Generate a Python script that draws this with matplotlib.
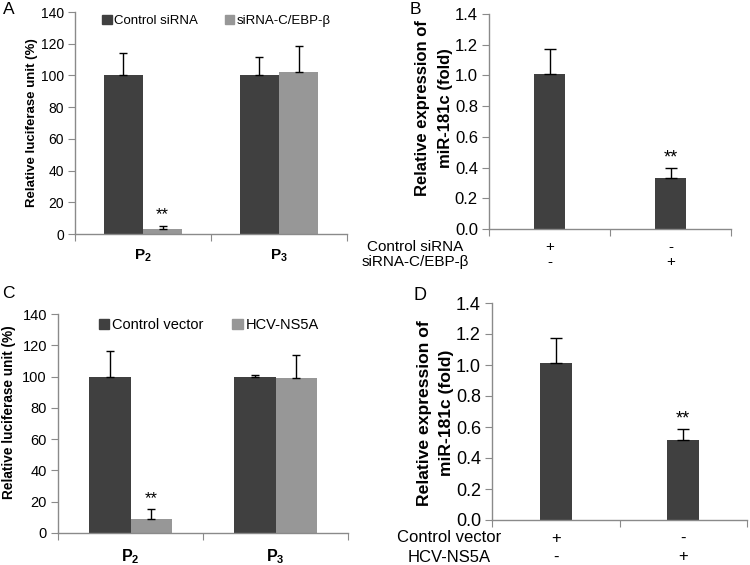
import matplotlib
matplotlib.use("Agg")
import matplotlib.pyplot as plt
import numpy as np
from matplotlib.patches import Patch
import matplotlib.transforms as mtransforms

plt.rcParams['font.family'] = ['Liberation Sans', 'DejaVu Sans']
plt.rcParams['mathtext.fontset'] = 'custom'
plt.rcParams['mathtext.rm'] = 'Liberation Sans'
plt.rcParams['mathtext.bf'] = 'Liberation Sans:bold'

# ---- data ----
promoters = [r'$\mathbf{P_2}$', r'$\mathbf{P_3}$']

a_series = ['Control siRNA', 'siRNA-C/EBP-β']
a_ctrl = [100, 100]
a_ctrl_err = [14, 11.5]
a_treat = [3.3, 102]
a_treat_err = [1.5, 16.5]

b_labels_row1 = ['+', '-']
b_labels_row2 = ['-', '+']
b_rows = ['Control siRNA', 'siRNA-C/EBP-β']
b_vals = [1.01, 0.335]
b_err = [0.165, 0.065]

c_series = ['Control vector', 'HCV-NS5A']
c_ctrl = [100, 100]
c_ctrl_err = [16.5, 1.2]
c_treat = [9, 99]
c_treat_err = [6.2, 14.5]

d_labels_row1 = ['+', '-']
d_labels_row2 = ['-', '+']
d_rows = ['Control vector', 'HCV-NS5A']
d_vals = [1.01, 0.515]
d_err = [0.165, 0.072]

DARK = '#404040'
LIGHT = '#979797'
AXC = '#8a8a8a'

W, H = 750, 565
fig = plt.figure(figsize=(7.5, 5.65), dpi=100)


def px_axes(x0, y0, x1, y1):
    return fig.add_axes([x0 / W, 1 - y1 / H, (x1 - x0) / W, (y1 - y0) / H])


def style(ax, fs):
    for s in ['top', 'right']:
        ax.spines[s].set_visible(False)
    for s in ['left', 'bottom']:
        ax.spines[s].set_color(AXC)
        ax.spines[s].set_linewidth(1.0)
    ax.tick_params(axis='y', direction='out', length=5, color=AXC, labelsize=fs, pad=3)
    ax.tick_params(axis='x', which='major', direction='out', length=5, color=AXC, labelbottom=False)
    ax.tick_params(axis='x', which='minor', length=0)
    ax.set_xlim(0, 2)
    ax.set_xticks([0, 1, 2])


def grouped(ax, ctrl, ctrl_err, treat, treat_err, width, series, fs_tick, fs_leg, ymax, star_gap):
    x = np.array([0.5, 1.5])
    ax.bar(x - width / 2, ctrl, width, color=DARK, zorder=2, label=series[0])
    ax.bar(x + width / 2, treat, width, color=LIGHT, zorder=2, label=series[1])
    ax.errorbar(x - width / 2, ctrl, yerr=[np.zeros(2), ctrl_err], fmt='none',
                ecolor='black', elinewidth=1, capsize=3, capthick=1, zorder=3)
    ax.errorbar(x + width / 2, treat, yerr=[np.zeros(2), treat_err], fmt='none',
                ecolor='black', elinewidth=1, capsize=3, capthick=1, zorder=3)
    ax.set_ylim(0, ymax)
    ax.set_yticks(np.arange(0, ymax + 1, 20))
    style(ax, fs_tick)
    ax.set_xticks(x, minor=True)
    ax.set_xticklabels(promoters, minor=True, fontsize=fs_tick + 1)
    ax.tick_params(axis='x', which='minor', labelbottom=True, pad=10)
    ax.text(x[0] + width / 2, treat[0] + treat_err[0] + star_gap, '**', ha='center', va='bottom',
            fontsize=12)
    handles = [Patch(color=DARK), Patch(color=LIGHT)]
    ax.legend(handles, series, loc='upper center', bbox_to_anchor=(0.52, 1.04), ncol=2,
              frameon=False, handlelength=0.7, handleheight=0.7, handletextpad=0.2,
              columnspacing=2.0, fontsize=fs_leg)


def single(ax, vals, err, width, row1, row2, rows, fs_tick, row_x, row_y, star_gap, ylabel_fs):
    x = np.array([0.5, 1.5])
    ax.bar(x, vals, width, color=DARK, zorder=2)
    ax.errorbar(x, vals, yerr=[np.zeros(2), err], fmt='none',
                ecolor='black', elinewidth=1, capsize=4, capthick=1, zorder=3)
    ax.set_ylim(0, 1.4)
    ax.set_yticks(np.arange(0, 1.41, 0.2))
    ax.set_yticklabels([f'{v:.1f}' for v in np.arange(0, 1.41, 0.2)])
    style(ax, fs_tick)
    ax.text(x[1], vals[1] + err[1] + star_gap, '**', ha='center', va='bottom', fontsize=13)
    trans = mtransforms.blended_transform_factory(ax.transData, fig.transFigure)
    for xi, r1, r2 in zip(x, row1, row2):
        ax.text(xi, 1 - row_y[0] / H, r1, transform=trans, ha='center', va='center', fontsize=fs_tick - 1)
        ax.text(xi, 1 - row_y[1] / H, r2, transform=trans, ha='center', va='center', fontsize=fs_tick - 1)
    fig.text(row_x / W, 1 - row_y[0] / H, rows[0], ha='center', va='center', fontsize=fs_tick - 1)
    fig.text(row_x / W, 1 - row_y[1] / H, rows[1], ha='center', va='center', fontsize=fs_tick - 1)


# Panel A
axA = px_axes(75, 12, 347, 234)
grouped(axA, a_ctrl, a_ctrl_err, a_treat, a_treat_err, 0.287, a_series, 10, 9.5, 140, 3)
fig.text(32 / W, 1 - 123 / H, 'Relative luciferase unit (%)', rotation=90, ha='center', va='center',
         fontsize=9.5, fontweight='bold')
fig.text(9 / W, 1 - 10 / H, 'A', ha='center', va='center', fontsize=12.5)

# Panel B
axB = px_axes(489, 14, 731, 229)
single(axB, b_vals, b_err, 0.25, b_labels_row1, b_labels_row2, b_rows, 12, 415, (247, 262), 0.01, 12)
fig.text(423 / W, 1 - 108 / H, 'Relative expression of', rotation=90, ha='center', va='center',
         fontsize=12, fontweight='bold')
fig.text(445 / W, 1 - 108 / H, 'miR-181c (fold)', rotation=90, ha='center', va='center',
         fontsize=12, fontweight='bold')
fig.text(415 / W, 1 - 10 / H, 'B', ha='center', va='center', fontsize=12.5)

# Panel C
axC = px_axes(58, 314, 348, 533)
grouped(axC, c_ctrl, c_ctrl_err, c_treat, c_treat_err, 0.283, c_series, 10.5, 10.5, 140, 2)
fig.text(9 / W, 1 - 412 / H, 'Relative luciferase unit (%)', rotation=90, ha='center', va='center',
         fontsize=9.8, fontweight='bold')
fig.text(8 / W, 1 - 293 / H, 'C', ha='center', va='center', fontsize=12.5)

# Panel D
axD = px_axes(492, 303, 747, 520)
single(axD, d_vals, d_err, 0.25, d_labels_row1, d_labels_row2, d_rows, 13, 449, (538, 557), 0.01, 12.6)
fig.text(425 / W, 1 - 413 / H, 'Relative expression of', rotation=90, ha='center', va='center',
         fontsize=12.6, fontweight='bold')
fig.text(447 / W, 1 - 413 / H, 'miR-181c (fold)', rotation=90, ha='center', va='center',
         fontsize=12.6, fontweight='bold')
fig.text(420 / W, 1 - 296 / H, 'D', ha='center', va='center', fontsize=13)

fig.savefig('out.png', dpi=100)
